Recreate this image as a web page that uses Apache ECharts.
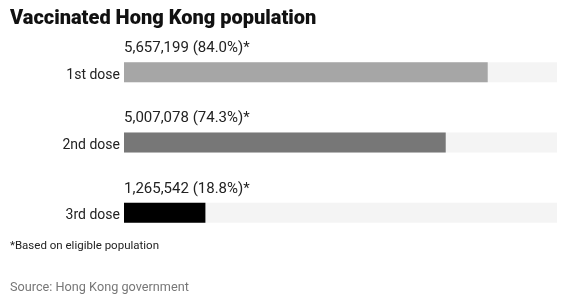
<!DOCTYPE html>
<html><head><meta charset="utf-8">
<script src="https://cdn.jsdelivr.net/npm/echarts@6/dist/echarts.min.js"></script>
<style>html,body{margin:0;padding:0;background:#fff}#c{width:567px;height:300px}</style>
</head><body><div id="c"></div>
<script>
const categories = ['1st dose', '2nd dose', '3rd dose'];
const percents = [84.0, 74.3, 18.8];
const counts = ['5,657,199', '5,007,078', '1,265,542'];
const colors = ['#a6a6a6', '#777777', '#000000'];

const chart = echarts.init(document.getElementById('c'), null, {renderer: 'canvas'});
chart.setOption({
  animation: false,
  title: [
    {text: 'Vaccinated Hong Kong population', left: 5, top: 4,
     textStyle: {fontFamily: 'Roboto', fontWeight: 900, fontSize: 20, color: '#111'}},
    {text: '*Based on eligible population', left: 5, top: 235,
     textStyle: {fontFamily: 'Roboto', fontWeight: 'normal', fontSize: 11.5, color: '#222'}},
    {text: 'Source: Hong Kong government', left: 5, top: 276,
     textStyle: {fontFamily: 'Roboto', fontWeight: 'normal', fontSize: 12.7, color: '#777'}}
  ],
  grid: {left: 124, right: 10, top: 37, bottom: 52},
  xAxis: {type: 'value', min: 0, max: 100, show: false},
  yAxis: {type: 'category', data: categories, inverse: true,
    axisLine: {show: false}, axisTick: {show: false},
    axisLabel: {margin: 4, formatter: v => '{a|' + v + '}',
      rich: {a: {fontFamily: 'Roboto', fontSize: 14, color: '#222', padding: [6, 0, 0, 0]}}}},
  series: [{
    type: 'bar', barWidth: 20,
    showBackground: true, backgroundStyle: {color: '#f4f4f4'},
    data: percents.map((v, i) => ({value: v, itemStyle: {color: colors[i]}})),
    label: {show: true, position: [0, -14], align: 'left', verticalAlign: 'middle',
      fontFamily: 'Roboto', fontSize: 15, color: '#222',
      formatter: p => counts[p.dataIndex] + ' (' + percents[p.dataIndex].toFixed(1) + '%)*'}
  }]
});
</script></body></html>
